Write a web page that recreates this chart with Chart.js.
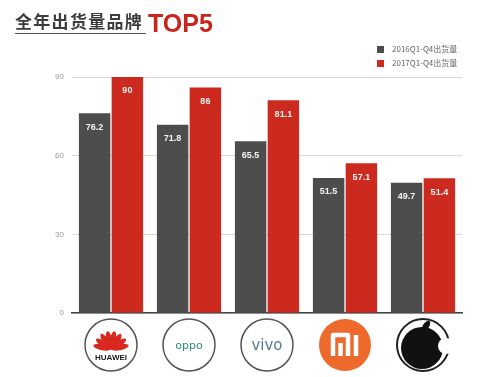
<!DOCTYPE html>
<html>
<head>
<meta charset="utf-8">
<script src="https://cdn.jsdelivr.net/npm/chart.js@4"></script>
<style>
    body { margin: 0; background: #fff; }
    #wrap { position: relative; width: 500px; height: 377px; overflow: hidden; }
    #title-cn { position: absolute; left: 15px; top: 9px; white-space: nowrap; font-family: "Noto Sans CJK SC", sans-serif; font-weight: bold;
        font-size: 17px; line-height: 24px; color: #3d3d3d; letter-spacing: 1.3px; border-bottom: 1.5px solid #555; padding-right: 3px; }
    #title-top { position: absolute; left: 148px; top: 8px; white-space: nowrap; font-family: "Liberation Sans", Arial, sans-serif; font-weight: bold;
        font-size: 25px; line-height: 30px; color: #c8261c; }
    #legend { position: absolute; left: 377px; top: 42px; font-family: "Noto Sans CJK SC", sans-serif; font-size: 8px; color: #666; line-height: 14px; }
    #legend span.sw { display: inline-block; width: 7px; height: 7px; margin-right: 8px; vertical-align: -1px; }
</style>
</head>
<body>
<div id="wrap">
    <canvas id="chart" width="500" height="377"></canvas>
    <div id="title-cn">全年出货量品牌</div>
    <div id="title-top">TOP5</div>
    <div id="legend"></div>
</div>
<script>
// Data
const brands = ['HUAWEI', 'OPPO', 'vivo', 'MI', 'Apple'];
const series2016 = [76.2, 71.8, 65.5, 51.5, 49.7];
const series2017 = [90, 86, 81.1, 57.1, 51.4];
const seriesNames = ['2016Q1-Q4出货量', '2017Q1-Q4出货量'];
const yTicks = [0, 30, 60, 90];

const gray = '#4d4d4d';
const red = '#cc2a1f';

// Simple html legend
const legend = document.getElementById('legend');
[gray, red].forEach((c, i) => {
    legend.innerHTML += `<div><span class="sw" style="background:${c}"></span>${seriesNames[i]}</div>`;
});

// Draw value labels inside bar tops
const valueLabels = {
    id: 'valueLabels',
    afterDatasetsDraw(chart) {
        const ctx = chart.ctx;
        ctx.save();
        ctx.fillStyle = '#f2f2f2';
        ctx.font = 'bold 9px "Liberation Sans", Arial, sans-serif';
        ctx.textAlign = 'center';
        ctx.textBaseline = 'middle';
        chart.data.datasets.forEach((ds, i) => {
            chart.getDatasetMeta(i).data.forEach((bar, j) => {
                ctx.fillText(String(ds.data[j]), bar.x, bar.y + 14);
            });
        });
        ctx.restore();
    }
};

// Brand badges under the axis
function drawBadge(ctx, name, x, y, r) {
    ctx.save();
    ctx.lineWidth = 1.5;
    if (name === 'HUAWEI') {
        ctx.beginPath(); ctx.arc(x, y, r, 0, Math.PI * 2);
        ctx.fillStyle = '#fff'; ctx.fill(); ctx.strokeStyle = '#555'; ctx.stroke();
        // petals
        ctx.fillStyle = '#d9281f';
        for (let k = 0; k < 8; k++) {
            const a = Math.PI + (k + 0.5) * Math.PI / 8;
            ctx.save();
            ctx.translate(x, y + 4);
            ctx.rotate(a + Math.PI / 2);
            ctx.beginPath();
            ctx.ellipse(0, -9, 3, 9, 0, 0, Math.PI * 2);
            ctx.fill();
            ctx.restore();
        }
        ctx.fillStyle = '#222';
        ctx.font = 'bold 8px "Liberation Sans", Arial, sans-serif';
        ctx.textAlign = 'center'; ctx.textBaseline = 'middle';
        ctx.fillText('HUAWEI', x, y + 13);
    } else if (name === 'OPPO' || name === 'vivo') {
        ctx.beginPath(); ctx.arc(x, y, r, 0, Math.PI * 2);
        ctx.fillStyle = '#fff'; ctx.fill(); ctx.strokeStyle = '#555'; ctx.stroke();
        ctx.fillStyle = name === 'OPPO' ? '#2f8f7a' : '#5a7a94';
        ctx.font = (name === 'OPPO' ? '11px' : '15px') + ' "DejaVu Sans", sans-serif';
        ctx.textAlign = 'center'; ctx.textBaseline = 'middle';
        ctx.fillText(name === 'OPPO' ? 'oppo' : 'vivo', x, y + 1);
    } else if (name === 'MI') {
        ctx.beginPath(); ctx.arc(x, y, r, 0, Math.PI * 2);
        ctx.fillStyle = '#ee6a2c'; ctx.fill();
        ctx.strokeStyle = '#fff'; ctx.lineWidth = 4.5; ctx.lineJoin = 'round';
        ctx.beginPath();
        ctx.moveTo(x - 12, y + 11); ctx.lineTo(x - 12, y - 10); ctx.lineTo(x + 3, y - 10); ctx.lineTo(x + 3, y + 11);
        ctx.moveTo(x - 4.5, y + 11); ctx.lineTo(x - 4.5, y - 2);
        ctx.moveTo(x + 11, y + 11); ctx.lineTo(x + 11, y - 10);
        ctx.stroke();
    } else {
        ctx.beginPath(); ctx.arc(x, y, r, 0, Math.PI * 2);
        ctx.fillStyle = '#fff'; ctx.fill(); ctx.strokeStyle = '#222'; ctx.lineWidth = 2; ctx.stroke();
        ctx.fillStyle = '#111';
        ctx.beginPath(); ctx.arc(x - 1, y + 3, r - 5, 0, Math.PI * 2); ctx.fill();
        ctx.fillStyle = '#fff';
        ctx.beginPath(); ctx.arc(x + r - 3, y + 1, 8, 0, Math.PI * 2); ctx.fill();
        ctx.fillStyle = '#111';
        ctx.beginPath(); ctx.ellipse(x + 3, y - r + 7, 3, 6, 0.6, 0, Math.PI * 2); ctx.fill();
    }
    ctx.restore();
}

const badges = {
    id: 'badges',
    afterDraw(chart) {
        const xs = chart.scales.x;
        brands.forEach((b, i) => {
            drawBadge(chart.ctx, b, xs.getPixelForValue(i), 345, 26);
        });
    }
};

const ctx = document.getElementById('chart').getContext('2d');
new Chart(ctx, {
    type: 'bar',
    data: {
        labels: brands,
        datasets: [
            { label: seriesNames[0], data: series2016, backgroundColor: gray },
            { label: seriesNames[1], data: series2017, backgroundColor: red }
        ]
    },
    options: {
        responsive: false,
        animation: false,
        layout: { padding: { top: 77, right: 38, left: 0, bottom: 0 } },
        datasets: { bar: { barPercentage: 0.96, categoryPercentage: 0.84 } },
        plugins: { legend: { display: false }, tooltip: { enabled: false } },
        scales: {
            x: {
                ticks: { display: false },
                grid: { display: false },
                border: { color: '#444', width: 1.5 },
                afterFit: s => { s.height = 64; }
            },
            y: {
                min: 0,
                max: 90,
                afterBuildTicks: s => { s.ticks = yTicks.map(v => ({ value: v })); },
                ticks: { color: '#999', font: { size: 8, family: '"Liberation Sans", Arial, sans-serif' }, padding: 8 },
                grid: { color: '#d8d8d8', drawTicks: false },
                border: { display: false },
                afterFit: s => { s.width = 72; }
            }
        }
    },
    plugins: [valueLabels, badges]
});
</script>
</body>
</html>
